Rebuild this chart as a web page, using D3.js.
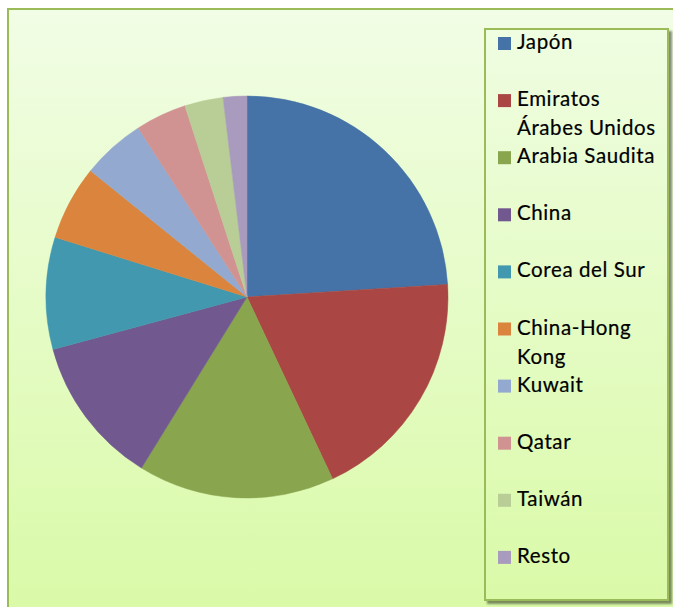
<!DOCTYPE html>
<html>
<head>
<meta charset="utf-8">
<script src="https://cdn.jsdelivr.net/npm/d3@7"></script>
<style>
  html, body { margin: 0; padding: 0; background: #ffffff; }
  svg { display: block; }
  text { font-family: Lato, "Open Sans", sans-serif; }
</style>
</head>
<body>
<script>
// Shares by destination (%)
const categories = ["Japón", "Emiratos Árabes Unidos", "Arabia Saudita", "China", "Corea del Sur",
                    "China-Hong Kong", "Kuwait", "Qatar", "Taiwán", "Resto"];
const values = [24.0, 19.0, 15.8, 12.0, 9.0, 6.0, 5.1, 4.1, 3.1, 1.9];
// Legend text as wrapped in the legend box
const legendLines = [["Japón"], ["Emiratos", "Árabes Unidos"], ["Arabia Saudita"], ["China"], ["Corea del Sur"],
                     ["China-Hong", "Kong"], ["Kuwait"], ["Qatar"], ["Taiwán"], ["Resto"]];
const colors = ["#4572A7", "#AA4643", "#89A54E", "#71588F", "#4198AF",
                "#DB843D", "#93A9CF", "#D19392", "#B9CD96", "#A99BBD"];

const W = 673, H = 607;
const svg = d3.select("body").append("svg").attr("width", W).attr("height", H);
const defs = svg.append("defs");

const bg = defs.append("linearGradient").attr("id", "bgGrad")
  .attr("x1", 0).attr("y1", 0).attr("x2", 0).attr("y2", 1);
bg.append("stop").attr("offset", "0%").attr("stop-color", "#F1FDE5");
bg.append("stop").attr("offset", "100%").attr("stop-color", "#D9FAA6");

const lg = defs.append("linearGradient").attr("id", "legGrad")
  .attr("x1", 0).attr("y1", 0).attr("x2", 0).attr("y2", 1);
lg.append("stop").attr("offset", "0%").attr("stop-color", "#EFFDE1");
lg.append("stop").attr("offset", "100%").attr("stop-color", "#DAFAA8");

const shadow = defs.append("filter").attr("id", "shadow")
  .attr("x", "-5%").attr("y", "-5%").attr("width", "115%").attr("height", "115%");
shadow.append("feGaussianBlur").attr("in", "SourceAlpha").attr("stdDeviation", 1.2).attr("result", "b");
shadow.append("feOffset").attr("in", "b").attr("dx", 3).attr("dy", 3).attr("result", "o");
shadow.append("feComponentTransfer").attr("in", "o").attr("result", "s")
  .append("feFuncA").attr("type", "linear").attr("slope", 0.45);
const merge = shadow.append("feMerge");
merge.append("feMergeNode").attr("in", "s");
merge.append("feMergeNode").attr("in", "SourceGraphic");

// Chart area
svg.append("rect")
  .attr("x", 8).attr("y", 9).attr("width", W + 10).attr("height", H + 10)
  .attr("fill", "url(#bgGrad)").attr("stroke", "#9BBB59").attr("stroke-width", 2);

// Pie
const cx = 247, cy = 297, r = 201;
const pie = d3.pie().sort(null).value(d => d)
  .startAngle(0).endAngle(2 * Math.PI);
const arc = d3.arc().innerRadius(0).outerRadius(r);
svg.append("g").attr("transform", `translate(${cx},${cy})`)
  .selectAll("path").data(pie(values)).join("path")
  .attr("d", arc)
  .attr("fill", (d, i) => colors[i])
  .attr("stroke", (d, i) => colors[i])
  .attr("stroke-width", 0.5);

// Legend
const lx = 485, ly = 29, lw = 183, lh = 571;
svg.append("rect")
  .attr("x", lx).attr("y", ly).attr("width", lw).attr("height", lh)
  .attr("fill", "url(#legGrad)").attr("stroke", "#9BBB59").attr("stroke-width", 2)
  .attr("filter", "url(#shadow)");

const step = 57.1, base0 = 49;
const items = svg.append("g").selectAll("g").data(categories).join("g")
  .attr("transform", (d, i) => `translate(0,${base0 + i * step})`);
items.append("rect")
  .attr("x", 498).attr("y", -12).attr("width", 13).attr("height", 13)
  .attr("fill", (d, i) => colors[i]);
items.append("text")
  .attr("x", 517).attr("y", 0)
  .attr("font-size", 20.5).attr("letter-spacing", 0.6)
  .attr("fill", "#000").attr("stroke", "#000").attr("stroke-width", 0.2)
  .selectAll("tspan").data((d, i) => legendLines[i]).join("tspan")
  .attr("x", 517).attr("dy", (d, j) => j === 0 ? 0 : 29)
  .text(d => d);
</script>
</body>
</html>
